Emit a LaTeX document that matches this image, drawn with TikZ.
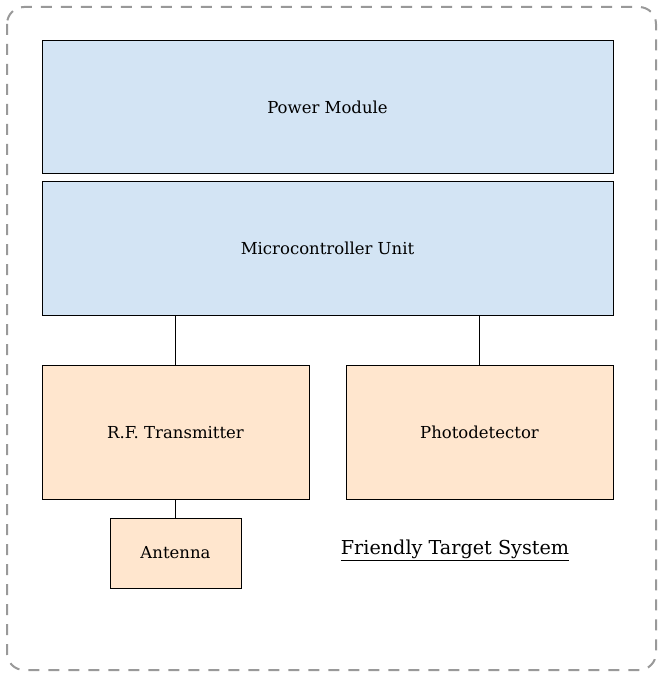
\documentclass[tikz,border=0pt]{standalone}
\usepackage{fontspec}
\setmainfont{DejaVu Serif}
\definecolor{bluefill}{RGB}{211,228,244}
\definecolor{orangefill}{RGB}{255,230,206}
\definecolor{dashgray}{RGB}{153,153,153}
\begin{document}
\begin{tikzpicture}[x=1pt,y=-1pt,
  bluebox/.style={draw=black,line width=1pt,fill=bluefill,inner sep=0pt,font=\fontsize{16.5}{18}\selectfont},
  orangebox/.style={draw=black,line width=1pt,fill=orangefill,inner sep=0pt,font=\fontsize{16.5}{18}\selectfont},
  link/.style={draw=black,line width=1pt},
  frame/.style={draw=dashgray,line width=2pt,dash pattern=on 11pt off 9pt,rounded corners=17pt}]
\useasboundingbox (0,0) rectangle (671,679);
\draw[frame] (7,7) rectangle (656,670);
\node[bluebox,minimum width=571pt,minimum height=133pt] (power) at (327.5,107) {Power Module};
\node[bluebox,minimum width=571pt,minimum height=134pt] (mcu) at (327.5,248.5) {Microcontroller Unit};
\node[orangebox,minimum width=267pt,minimum height=134pt] (rf) at (175.5,432.5) {R.F. Transmitter};
\node[orangebox,minimum width=267pt,minimum height=134pt] (photo) at (479.5,432.5) {Photodetector};
\node[orangebox,minimum width=131pt,minimum height=70pt] (ant) at (175.5,553) {Antenna};
\node[font=\fontsize{19.2}{21}\selectfont,inner sep=0pt] (title) at (455,550) {\underline{Friendly Target System}};
\draw[link] (mcu.south -| rf.north) -- (rf.north);
\draw[link] (mcu.south -| photo.north) -- (photo.north);
\draw[link] (rf.south) -- (ant.north);
\end{tikzpicture}
\end{document}
